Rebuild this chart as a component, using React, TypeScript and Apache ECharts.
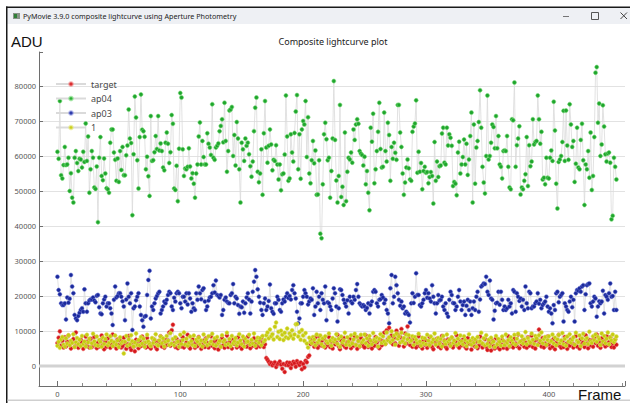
import React, { useEffect, useRef } from "react";
import * as echarts from "echarts";

// values are in thousands of ADU (kADU), one entry per frame starting at frame 0
const KADU = 1000;
const SERIES_NAMES = ["target", "ap04", "ap03", "1"];
const X_TICKS = [0, 100, 200, 300, 400];
const Y_TICKS = [0, 10000, 20000, 30000, 40000, 50000, 60000, 70000, 80000];

const AP04 = [
  61.2, 59.2, 75.7, 54.5, 53.6, 57.4, 62.6, 57.4, 57.6, 59.5,
  50.0, 55.1, 48.1, 46.7, 59.5, 61.4, 58.0, 55.7, 59.2, 59.0,
  56.7, 61.2, 58.3, 69.3, 58.6, 65.6, 49.5, 56.2, 61.4, 59.5,
  51.0, 50.6, 57.0, 41.1, 59.5, 65.4, 54.3, 53.1, 59.3, 55.0,
  50.8, 50.5, 49.5, 63.8, 67.6, 67.6, 61.0, 58.9, 52.9, 59.3,
  52.6, 61.4, 56.0, 62.6, 54.5, 54.5, 60.2, 63.0, 73.3, 65.0,
  63.7, 43.1, 60.5, 77.0, 71.0, 58.8, 50.7, 65.4, 77.6, 67.5,
  67.1, 65.5, 56.2, 59.8, 54.2, 48.6, 71.4, 58.6, 58.8, 61.1,
  65.7, 62.0, 71.4, 61.6, 63.6, 61.4, 56.7, 55.9, 63.8, 66.7,
  63.5, 58.0, 61.1, 71.7, 69.2, 50.7, 50.3, 57.2, 47.1, 62.1,
  78.0, 76.7, 61.9, 54.3, 56.4, 56.2, 56.9, 62.2, 57.0, 53.6,
  55.1, 52.1, 48.1, 55.0, 57.6, 65.6, 69.6, 57.6, 64.3, 59.7,
  57.6, 57.6, 66.5, 63.5, 62.4, 60.3, 74.8, 59.5, 58.9, 62.4,
  62.9, 63.6, 67.1, 68.6, 70.5, 63.9, 75.2, 64.3, 55.5, 61.4,
  73.0, 73.3, 74.0, 60.0, 66.0, 57.3, 69.7, 65.0, 56.2, 46.7,
  63.8, 61.9, 58.6, 65.0, 62.9, 63.8, 60.5,
  57.1, 54.1, 58.4, 67.1, 73.8, 76.7, 55.5, 52.5, 55.0, 61.9,
  48.9, 66.5, 75.7, 62.4, 58.1, 62.9, 67.6, 63.3, 55.9, 58.9,
  58.6, 63.1, 57.6, 53.3, 57.6, 50.2, 54.8, 55.0, 60.4, 77.3,
  65.6, 52.9, 53.6, 66.2, 61.0, 58.4, 66.6, 72.7, 77.4, 56.2,
  66.2, 53.5, 67.6, 70.0, 69.0, 75.7, 59.7, 71.1, 55.0, 52.2,
  58.8, 64.3, 57.9, 61.6, 48.9, 49.0, 58.8, 37.8, 36.5, 51.9,
  66.2, 69.5, 64.8, 58.8, 59.5, 48.1, 55.7, 65.0, 81.4, 64.6,
  53.0, 46.7, 54.3, 74.6, 48.3, 51.2, 46.0, 66.7, 47.1, 55.5,
  59.5, 59.0, 61.0, 58.1, 67.6, 64.6, 69.0, 70.5, 69.2, 61.4,
  60.7, 60.3, 57.3, 59.8, 51.9, 55.7, 49.5, 44.5, 68.1, 64.1,
  72.1, 52.2, 56.2, 61.4, 66.9, 75.2, 62.0, 56.7, 56.9, 72.4,
  61.4, 58.4, 69.5, 66.0, 52.9, 62.6, 59.2, 63.8, 60.9, 58.9,
  74.6, 74.6, 66.7, 62.6, 55.0, 48.9, 52.4, 56.7, 59.0, 56.5,
  53.3, 52.9, 66.9, 68.4, 69.3, 75.9, 55.2, 61.2, 55.5, 58.0,
  50.5, 55.7, 56.9, 55.2, 55.4, 52.2, 54.0, 55.4, 54.3, 46.4,
  64.0, 52.9, 58.4, 54.0, 57.1,
  57.3, 66.4, 68.1, 58.1, 57.6, 68.1, 63.0, 66.2, 65.2, 62.9,
  51.4, 52.6, 52.1, 48.8, 61.0, 64.1, 55.0, 57.6, 59.7, 64.7,
  57.6, 63.5, 54.6, 59.0, 65.7, 72.4, 46.7, 69.0, 52.1, 62.4,
  64.3, 69.7, 78.8, 68.1, 56.9, 52.4, 49.3, 60.0, 77.3, 59.0,
  60.0, 63.8, 69.0, 68.3, 62.2, 71.4, 62.2, 65.7, 57.6, 56.9,
  53.6, 61.4, 61.6, 61.4, 65.7, 56.9, 51.0, 50.5, 70.5, 70.2,
  81.0, 56.9, 63.1, 65.0, 68.5, 49.0, 51.0, 50.5, 52.9, 54.8,
  65.4, 51.4, 63.1, 57.1, 58.4, 70.5, 63.3, 64.0, 64.3, 77.3,
  70.5, 63.5, 66.9, 53.3, 53.8, 51.9, 59.5, 53.8, 53.6, 59.5,
  61.6, 58.6, 75.5, 67.3, 52.1, 45.0, 58.3, 59.0, 60.0, 64.0,
  72.9, 58.6, 73.0, 63.0, 58.9, 74.8, 69.0, 62.6, 64.3, 52.6,
  57.8, 68.1, 56.7, 56.2, 64.6, 69.2, 58.8, 46.0, 57.6, 56.2,
  61.4, 53.8, 66.7, 50.3, 54.3, 65.4, 83.8, 85.4, 69.5, 75.0,
  60.0, 63.3, 74.5, 68.4, 60.5, 58.4, 60.7, 61.0, 58.1, 41.9,
  42.9, 59.5, 56.9, 53.3,
];

const AP03 = [
  25.5, 21.7, 20.5, 17.9, 17.4, 17.4, 17.9, 13.3, 19.6, 18.1, 19.2,
  26.0, 22.7, 20.8, 14.6, 13.6, 13.1, 14.3, 15.2, 16.0, 16.5,
  15.5, 21.9, 17.9, 15.5, 17.9, 18.7, 19.0, 19.0, 19.6, 18.7, 18.2, 20.1,
  20.3, 16.8, 15.0, 14.8, 17.9, 19.0, 19.8, 17.0, 17.9, 17.9,
  16.5, 15.0, 11.7, 18.9, 22.7, 19.6, 20.0, 20.8, 20.8, 19.8, 18.5,
  17.0, 13.1, 19.0, 23.6, 19.8, 17.9, 20.8, 10.3, 16.5, 17.0, 18.8,
  19.8, 20.8, 17.0, 14.6, 13.1, 11.2, 14.1, 14.3, 20.3, 24.6,
  27.2, 13.6, 17.0, 16.0, 17.9, 19.3, 20.0, 20.8, 21.2, 15.0,
  16.0, 17.0, 18.4, 17.9, 18.9, 20.3, 21.2, 20.8, 17.0, 16.0, 19.5,
  18.4, 20.8, 21.2, 20.8, 17.9, 16.5, 19.8, 19.8, 18.4, 20.8, 17.6,
  20.8, 19.3, 15.5, 17.9, 16.5, 16.0, 20.8, 18.9, 22.7, 20.8, 19.1,
  21.7, 22.2, 18.4, 16.0, 17.0, 18.7, 19.6, 19.8, 20.8, 23.1, 21.0,
  24.4, 20.3, 20.0, 19.6, 20.3, 14.6, 16.0, 18.9, 19.6, 18.4, 18.0,
  17.9, 20.3, 20.8, 23.4, 17.9, 19.8, 19.3, 17.4, 14.9, 17.0, 16.8,
  18.4, 15.2, 17.9, 19.6, 20.8, 19.0,
  15.0, 18.4, 21.2, 24.1, 27.4, 25.5, 21.9, 19.8, 18.1, 16.0,
  14.6, 17.9, 19.3, 16.0, 17.0, 18.6, 23.3, 16.5, 15.5, 14.9, 17.9,
  17.9, 19.8, 18.9, 16.0, 15.5, 17.9, 19.0, 18.4, 19.8, 20.8, 19.4,
  20.0, 19.0, 21.7, 23.1, 20.8, 19.3, 15.5, 12.2, 13.6, 17.9,
  17.9, 19.8, 21.7, 20.8, 19.8, 17.6, 18.4, 19.3, 18.9, 22.2, 14.6,
  17.0, 21.2, 17.9, 19.8, 16.0, 20.8, 18.9, 17.9, 22.7, 13.1, 18.2,
  17.9, 17.0, 16.0, 19.3, 22.2, 20.8, 17.0, 12.7, 16.5, 21.9,
  21.7, 20.3, 18.9, 17.9, 17.0, 18.8, 15.0, 19.8, 18.4, 17.9, 19.8,
  18.9, 21.7, 23.4, 19.8, 17.9, 17.4, 17.0, 17.4, 17.0, 16.0, 16.6,
  17.9, 15.0, 17.4, 18.4, 21.2, 21.7, 21.2, 17.9, 17.0, 18.9, 19.1,
  20.3, 19.6, 17.9, 18.9, 16.0, 15.0, 12.2, 22.2, 26.0, 17.9,
  19.8, 25.5, 23.1, 20.8, 18.9, 17.2, 18.4, 16.5, 17.0, 15.0, 15.5,
  15.0, 14.6, 12.4, 17.9, 20.8, 18.0, 19.8, 26.5, 20.3, 20.3, 17.4,
  17.0, 17.9, 18.9, 20.8, 21.7, 19.5, 20.8, 19.3, 18.4, 23.1, 19.8,
  17.9, 15.0, 17.9, 20.3, 18.7,
  18.9, 19.8, 17.0, 16.0, 17.9, 15.0, 14.1, 18.9, 21.2, 20.3, 18.0,
  17.9, 16.0, 17.0, 19.8, 21.7, 18.4, 16.0, 17.4, 18.4, 14.6, 17.2,
  18.9, 16.0, 18.4, 14.6, 16.5, 18.4, 16.0, 19.8, 21.2, 15.5, 19.0,
  22.7, 23.1, 23.6, 23.4, 25.5, 21.2, 20.3, 24.4, 19.3, 18.9,
  13.3, 15.8, 17.9, 18.1, 21.2, 17.5, 21.2, 18.9, 16.0, 17.0, 16.0,
  16.5, 18.9, 17.0, 17.9, 15.0, 21.7, 21.2, 15.5, 20.8, 19.8, 18.6,
  19.3, 17.0, 18.9, 16.0, 22.7, 17.9, 16.5, 21.2, 20.8, 16.5,
  17.0, 17.0, 17.9, 18.4, 20.8, 17.8, 18.9, 16.5, 17.4, 17.9, 18.4,
  19.8, 17.0, 15.5, 16.5, 15.0, 12.2, 17.4, 16.0, 20.8, 21.2, 18.2,
  19.8, 20.3, 20.8, 12.7, 17.9, 17.0, 16.0, 15.5, 18.4, 19.8, 16.8,
  18.9, 12.7, 20.8, 21.7, 21.5, 22.2, 21.2, 22.7, 23.1, 16.0, 20.5,
  23.1, 23.4, 23.6, 17.9, 17.0, 18.4, 19.8, 19.3, 14.1, 17.0, 18.5,
  17.9, 18.4, 21.5, 15.0, 20.3, 19.8, 18.9, 20.8, 23.6, 19.8, 20.0,
  16.0, 21.2, 16.0,
];

const TARGET = [
  6.6, 8.1, 9.9, 5.8, 7.2, 5.3, 8.2, 5.6, 6.9, 8.7,
  6.2, 5.0, 7.3, 7.7, 5.5, 9.6, 6.4, 5.2, 6.0, 7.5,
  6.8, 4.9, 6.3, 8.4, 5.7, 7.1, 5.3, 7.8, 5.4, 6.5,
  8.3, 5.9, 5.1, 6.7, 5.6, 7.4, 8.7, 6.1, 4.8, 7.0,
  5.5, 7.9, 6.4, 5.2, 6.3, 9.0, 5.8, 6.6, 5.0, 7.6,
  6.0, 7.3, 5.3, 5.7, 8.1, 6.5, 4.9, 6.2, 8.6, 5.4,
  4.6, 6.8, 5.6, 4.2, 7.5, 6.3, 5.1, 7.2, 5.7, 8.4,
  5.9, 6.6, 5.3, 8.0, 5.5, 6.4, 5.0, 6.1, 7.7, 6.9,
  5.4, 4.8, 7.1, 6.2, 8.5, 5.6, 6.7, 5.2, 7.4, 6.0,
  7.3, 9.6, 5.8, 10.2, 11.8, 6.5, 5.4, 7.8, 5.1, 6.3,
  7.0, 5.6, 8.2, 5.3, 5.9, 6.7, 8.9, 5.5, 5.0, 6.4,
  7.6, 6.1, 5.2, 6.8, 5.7, 8.3, 6.4, 4.9, 6.0, 7.2,
  5.4, 7.9, 6.6, 5.3, 6.2, 8.5, 5.8, 6.9, 5.1, 7.4,
  6.3, 4.7, 7.1, 5.6, 8.0, 5.9, 5.2, 6.5, 8.7, 5.4,
  6.8, 6.0, 5.0, 7.5, 6.3, 6.7, 5.3, 8.2, 5.7, 6.4,
  4.9, 6.1, 7.7, 7.0, 5.5, 8.4, 6.2, 5.1, 6.6, 5.8,
  7.9, 6.4, 5.3, 6.0, 7.3, 5.6, 8.1, 6.8, 5.4, 6.2,
  2.3, 1.8, 1.2, 0.6, 0.9, 0.2, 0.7, 1.1, -0.3, 0.5,
  0.8, 1.3, 0.4, -0.8, 0.6, -1.7, 0.3, 1.0, 0.2, 0.9,
  -0.6, 0.5, 1.2, 0.8, -0.2, 1.4, 0.7, 0.3, 1.0, -0.9,
  0.6, -0.4, 1.5, 1.1, 2.6, 3.0,
  6.3, 7.6, 6.8,
  5.5, 8.2, 6.4, 5.2, 8.6, 5.9, 7.1, 5.7, 7.8, 5.3,
  6.6, 6.0, 8.3, 5.4, 6.9, 5.0, 7.5, 6.2, 6.7, 8.9,
  5.6, 4.8, 7.3, 6.1, 8.0, 5.5, 5.2, 6.8, 6.3, 7.7,
  5.1, 6.5, 5.8, 8.4, 6.0, 4.9, 7.2, 5.6, 8.1, 6.4,
  5.7, 5.3, 8.8, 6.6, 5.4, 7.5, 6.2, 5.0, 6.9, 5.8,
  8.3, 6.7, 5.5, 5.1, 7.4, 5.9, 7.0, 9.5, 6.3, 10.2,
  7.6, 10.9, 6.9, 8.7, 6.2, 8.0, 6.5, 10.1, 9.0, 5.8,
  8.2, 10.6, 7.1, 5.6, 9.3, 6.4, 11.3, 7.8, 6.0, 7.3,
  5.5, 7.9, 6.6, 5.3, 6.2, 8.5, 5.7, 6.8, 5.0, 7.4,
  6.1, 7.2, 5.2, 5.9, 8.3, 6.5, 5.4, 4.8, 7.0, 6.3,
  7.8, 5.6, 6.7, 5.1, 8.6, 6.0, 7.3, 5.5, 4.9, 7.6,
  6.4, 5.8, 8.1, 5.3, 6.2, 6.9, 8.8, 5.7, 5.2, 7.1,
  5.9, 7.5, 6.6, 5.4, 5.0, 8.0, 6.3, 6.8, 4.7, 6.1,
  7.4, 5.6, 7.0, 5.1, 5.8, 8.4, 6.5, 5.3, 6.0, 7.7,
  5.5, 4.6, 6.7, 6.2, 4.4, 7.3, 5.7, 5.0, 7.9, 5.4,
  6.6, 4.8, 6.3, 7.5, 5.2, 5.9, 6.8, 4.9, 8.5, 5.6,
  7.1, 6.0, 5.3, 7.8, 6.4, 5.7, 9.0, 5.1, 6.9, 6.2,
  7.4, 5.5, 6.7, 5.2, 8.2, 5.8, 6.5, 8.7, 5.4, 7.0,
  5.0, 7.6, 6.1, 10.4, 6.8, 5.6, 8.0, 5.3, 6.4, 5.9,
  8.4, 6.2, 5.1, 7.2, 5.5, 7.8, 4.8, 6.6, 6.0, 8.9,
  5.7, 5.2, 7.1, 5.4, 8.3, 6.3, 4.9, 6.8, 5.8, 7.5,
  6.5, 5.3, 6.1, 8.6, 5.6, 7.0, 5.0, 7.7, 6.2, 6.7,
  5.4, 8.8, 6.4, 5.1, 7.4, 5.9, 7.3, 5.5, 8.1, 6.6,
  9.0, 5.8, 6.9, 5.2, 7.9, 6.3, 7.1, 5.6, 8.5, 6.0,
  6.8, 8.2, 5.4, 6.5, 5.3, 7.6, 6.1,
];

const REF1 = [
  5.8, 6.9, 5.2, 7.6, 8.3, 6.1, 5.5, 7.9, 6.4, 8.8,
  5.9, 7.2, 6.6, 9.1, 5.4, 6.8, 8.0, 6.2, 7.5, 5.7,
  8.6, 6.3, 7.0, 5.6, 8.9, 6.7, 7.8, 5.3, 6.5, 9.2,
  7.1, 6.0, 8.4, 5.8, 7.4, 6.9, 5.5, 8.1, 6.3, 7.7,
  9.0, 5.9, 6.6, 8.5, 7.2, 5.7, 6.8, 8.7, 6.1, 7.3,
  5.4, 8.2, 6.5, 7.0, 3.6, 6.9, 8.6, 5.8, 7.6, 6.2,
  8.8, 7.1, 5.6, 6.7, 9.3, 6.0, 7.4, 5.9, 8.3, 6.4,
  7.8, 5.5, 6.8, 8.9, 7.0, 6.2, 5.7, 8.0, 6.6, 7.5,
  9.1, 6.1, 5.8, 7.3, 8.4, 6.5, 7.9, 5.6, 6.9, 8.6,
  7.2, 6.0, 9.4, 6.4, 7.7, 5.9, 8.2, 6.7, 7.0, 5.5,
  8.9, 6.3, 7.4, 9.6, 6.1, 7.8, 5.8, 6.6, 8.4, 7.1,
  6.0, 8.7, 5.7, 7.5, 6.9, 8.1, 6.2, 7.3, 5.6, 9.0,
  6.8, 7.6, 5.9, 8.5, 6.4, 7.0, 9.2, 6.1, 7.9, 5.8,
  8.3, 6.6, 7.2, 5.5, 8.8, 6.9, 7.4, 6.0, 9.5, 6.3,
  7.7, 5.7, 8.6, 6.5, 7.1, 8.0, 5.9, 6.7, 9.1, 7.3,
  6.2, 8.4, 5.6, 7.8, 6.8, 7.0, 8.9, 6.1, 7.5, 6.4,
  9.3, 5.8, 7.2, 8.1, 6.6, 7.9, 5.9, 8.6, 6.9, 7.4,
  8.8, 9.6, 7.9, 10.4, 8.5, 9.1, 7.6, 11.2, 12.4, 8.3,
  9.8, 7.7, 10.1, 8.9, 7.4, 9.5, 8.2, 10.7, 7.9, 9.3,
  8.6, 10.2, 7.8, 9.0, 11.9, 12.0, 8.4, 9.7, 7.5, 10.3,
  8.7, 7.2, 9.4, 6.4, 5.3, 8.1, 7.0, 6.5, 8.3, 7.6,
  5.9, 9.0, 6.8, 7.4, 8.7, 6.2, 7.9, 5.6, 8.5, 7.1,
  6.6, 9.3, 7.2, 5.8, 8.0, 6.9, 7.5, 9.1, 6.3, 7.8,
  5.5, 8.4, 6.7, 7.3, 9.5, 6.1, 8.2, 7.0, 5.9, 8.8,
  6.4, 7.6, 9.2, 6.0, 8.3, 7.1, 5.7, 8.9, 6.8, 7.4,
  9.0, 6.5, 7.9, 5.8, 8.6, 7.2, 6.2, 9.4, 7.5, 6.9,
  8.1, 5.6, 7.7, 9.1, 6.6, 8.5, 7.0, 6.3, 9.6, 7.3,
  8.2, 6.8, 9.9, 7.4, 8.7, 6.1, 9.3, 7.8, 8.4, 6.7,
  9.5, 7.1, 8.0, 6.4, 9.0, 7.6, 8.8, 6.9, 7.3, 8.5,
  6.0, 8.3, 7.5, 6.6, 9.2, 7.0, 5.8, 8.1, 6.5, 7.9,
  6.2, 8.9, 7.2, 5.9, 8.4, 6.8, 7.6, 9.3, 6.1, 7.4,
  8.0, 6.4, 7.7, 5.6, 8.6, 7.1, 6.3, 9.0, 6.9, 7.5,
  5.8, 8.2, 6.6, 7.3, 9.4, 6.0, 7.8, 6.5, 8.7, 7.0,
  6.2, 8.5, 7.4, 5.7, 6.8, 9.1, 7.2, 6.1, 8.0, 6.7,
  7.6, 5.5, 8.3, 6.9, 7.1, 9.5, 6.4, 7.9, 5.9, 8.8,
  6.3, 7.5, 5.6, 8.1, 6.7, 7.0, 5.4, 8.6, 6.2, 7.7,
  6.9, 5.8, 8.4, 7.2, 6.0, 9.0, 6.6, 7.4, 5.7, 8.2,
  7.3, 6.5, 8.9, 6.1, 7.8, 9.2, 6.8, 7.0, 8.5, 6.4,
  7.6, 9.7, 6.2, 8.0, 7.1, 6.7, 9.3, 7.5, 6.3, 8.6,
  7.9, 6.0, 8.8, 7.2, 9.6, 6.5, 7.7, 8.3, 6.1, 7.4,
  8.5, 6.9, 7.1, 9.0, 6.4, 8.1, 5.9, 7.6, 8.9, 6.6,
  7.3, 9.4, 6.2, 7.8, 5.8, 8.4, 7.0, 9.1, 6.7, 7.5,
  8.2, 6.1, 9.5, 7.2, 6.8, 8.7, 5.7, 7.9, 9.2, 6.4,
  7.6, 8.0, 6.3, 9.8, 7.1, 6.6, 8.5, 7.4, 9.0, 6.9,
  8.3, 7.7, 6.0, 9.3, 7.0, 8.6, 6.5, 7.8, 9.6, 6.2,
  8.1, 7.3, 9.0, 6.8, 7.5, 8.4,
];

const toPairs = (arr: number[]) => arr.map((v, i) => [i, Math.round(v * KADU)]);

const COLORS: Record<string, { fill: string; border: string }> = {
  target: { fill: "#d4181c", border: "rgba(240,110,110,0.55)" },
  ap04: { fill: "#1fa52d", border: "rgba(120,220,120,0.6)" },
  ap03: { fill: "#1b2a9a", border: "rgba(110,120,220,0.5)" },
  "1": { fill: "#c6cc12", border: "rgba(225,230,110,0.55)" },
};

const DATA: Record<string, number[]> = { target: TARGET, ap04: AP04, ap03: AP03, "1": REF1 };

export default function App() {
  const ref = useRef<HTMLDivElement>(null);
  useEffect(() => {
    document.body.style.margin = "0";
    if (!ref.current) return;
    const chart = echarts.init(ref.current, null, { renderer: "svg" });
    const drawOrder = ["ap04", "ap03", "target", "1"];
    const dataSeries = drawOrder.map((name) => ({
      name,
      type: "line",
      data: toPairs(DATA[name]),
      symbol: "circle",
      symbolSize: 4,
      showSymbol: true,
      lineStyle: { color: "#dadada", width: 0.8 },
      itemStyle: { color: COLORS[name].fill, borderColor: COLORS[name].border, borderWidth: 1 },
      emphasis: { disabled: true },
      z: 3,
    }));
    const option: any = {
      animation: false,
      backgroundColor: "#ffffff",
      grid: { left: 39, right: 5, top: 52, bottom: 17, containLabel: false },
      xAxis: {
        type: "value",
        min: -15,
        max: 462,
        splitNumber: 5,
        minInterval: 100,
        maxInterval: 100,
        axisLine: { show: true, onZero: false, lineStyle: { color: "#6e6e6e", width: 1 } },
        axisTick: { show: true, inside: true, length: 5, lineStyle: { color: "#6e6e6e" } },
        minorTick: { show: true, splitNumber: 5, length: 3, lineStyle: { color: "#8a8a8a" } },
        axisLabel: {
          margin: 4,
          fontSize: 7.5,
          fontFamily: "Noto Sans",
          color: "#555",
          formatter: (v: number) => (X_TICKS.includes(v) ? String(v) : ""),
        },
        splitLine: { show: false },
      },
      yAxis: {
        type: "value",
        min: -5714,
        max: 89714,
        splitNumber: 10,
        minInterval: 10000,
        maxInterval: 10000,
        axisLine: { show: true, onZero: false, lineStyle: { color: "#6e6e6e", width: 1 } },
        axisTick: { show: true, inside: true, length: 4, lineStyle: { color: "#6e6e6e" } },
        axisLabel: {
          margin: 3,
          fontSize: 7.5,
          fontFamily: "Noto Sans",
          color: "#555",
          formatter: (v: number) => (Y_TICKS.includes(v) ? String(v) : ""),
        },
        splitLine: { show: true, showMinLine: false, showMaxLine: false, lineStyle: { color: "#e2e2e2", width: 1.2 } },
      },
      legend: {
        data: SERIES_NAMES,
        orient: "vertical",
        left: 50,
        top: 74,
        itemWidth: 30,
        itemHeight: 4.5,
        itemGap: 4.5,
        textStyle: { fontSize: 9, lineHeight: 10, fontFamily: "Noto Sans", color: "#4a4a4a" },
        selectedMode: false,
      },
      series: [
        {
          name: "zero",
          type: "line",
          data: [[-15, 0], [462, 0]],
          symbol: "none",
          silent: true,
          lineStyle: { color: "#d2d2d2", width: 3 },
          z: 1,
        },
        ...dataSeries,
      ],
      graphic: [
        { type: "rect", shape: { x: 7, y: 8, width: 623, height: 16 }, style: { fill: "#eef0f4" }, silent: true },
        { type: "rect", shape: { x: 6, y: 6.5, width: 624, height: 1.5 }, style: { fill: "#1a1a1a" }, silent: true },
        { type: "rect", shape: { x: 6, y: 6.5, width: 1.5, height: 397 }, style: { fill: "#1a1a1a" }, silent: true },
        { type: "rect", shape: { x: 7.5, y: 399.5, width: 623, height: 1.5 }, style: { fill: "#cfcfcf" }, silent: true },
        { type: "rect", shape: { x: 13, y: 13, width: 7, height: 6 }, style: { fill: "#8a948a" }, silent: true },
        { type: "rect", shape: { x: 14, y: 14, width: 3, height: 4 }, style: { fill: "#2f7f37" }, silent: true },
        {
          type: "text",
          x: 23,
          y: 16,
          style: {
            text: "PyMovie 3.9.0 composite lightcurve using Aperture Photometry",
            font: '7.2px "Noto Sans"',
            fill: "#222",
            align: "left",
            verticalAlign: "middle",
            textAlign: "left",
            textVerticalAlign: "middle",
          },
          silent: true,
        },
        { type: "rect", shape: { x: 563, y: 16, width: 6, height: 0.8 }, style: { fill: "#555" }, silent: true },
        { type: "rect", shape: { x: 591.5, y: 12.5, width: 7, height: 7 }, style: { fill: "none", stroke: "#555", lineWidth: 1 }, silent: true },
        { type: "line", shape: { x1: 620.5, y1: 12.5, x2: 627, y2: 19 }, style: { stroke: "#444", lineWidth: 1 }, silent: true },
        { type: "line", shape: { x1: 627, y1: 12.5, x2: 620.5, y2: 19 }, style: { stroke: "#444", lineWidth: 1 }, silent: true },
        {
          type: "text",
          x: 11,
          y: 41.5,
          style: {
            text: "ADU",
            font: '15px "Liberation Sans"',
            fill: "#111",
            align: "left",
            verticalAlign: "middle",
            textAlign: "left",
            textVerticalAlign: "middle",
          },
          silent: true,
        },
        {
          type: "text",
          x: 333,
          y: 41,
          style: {
            text: "Composite lightcurve plot",
            font: '9px "Noto Sans"',
            fill: "#222",
            align: "center",
            verticalAlign: "middle",
            textAlign: "center",
            textVerticalAlign: "middle",
          },
          silent: true,
        },
        {
          type: "text",
          x: 578,
          y: 394,
          style: {
            text: "Frame",
            font: '15px "Liberation Sans"',
            fill: "#111",
            align: "left",
            verticalAlign: "middle",
            textAlign: "left",
            textVerticalAlign: "middle",
          },
          silent: true,
        },
      ],
    };
    chart.setOption(option);
    return () => chart.dispose();
  }, []);
  return (
    <div
      ref={ref}
      style={{ position: "absolute", left: 0, top: 0, width: 630, height: 403, background: "#fff" }}
    />
  );
}
